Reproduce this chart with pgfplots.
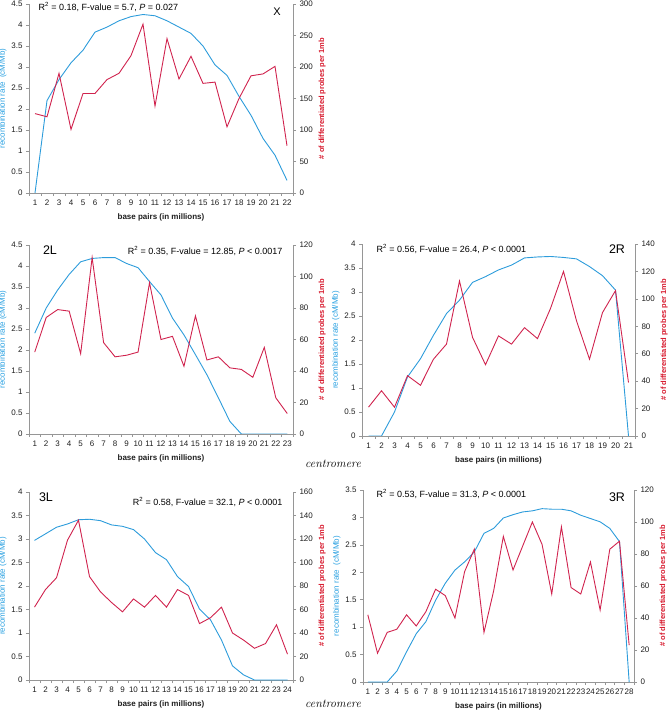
\documentclass[border=0pt]{standalone}
\usepackage{fontspec}
\setsansfont{Liberation Sans}
\usepackage{pgfplots}
\pgfplotsset{compat=1.18}
\definecolor{cblue}{RGB}{45,156,219}
\definecolor{cred}{RGB}{208,35,78}
\definecolor{cbluelab}{RGB}{40,160,225}
\definecolor{credlab}{RGB}{215,25,45}
\definecolor{axcol}{RGB}{150,150,150}
\definecolor{tickcol}{RGB}{30,30,30}
\pgfplotsset{
  common/.style={scale only axis, anchor=south west, xmin=0.5, ymin=0,
    axis line style={axcol,line width=0.6pt,-}, tick align=outside,
    major tick length=3pt, minor tick length=3pt,
    tick style={axcol,line width=0.6pt},
    tick label style={font=\sffamily\fontsize{8}{9}\selectfont, text=tickcol},
    /pgf/number format/assume math mode=true},
  leftax/.style={common, axis x line*=bottom, axis y line*=left,
    major x tick style={draw=none},
    xlabel={base pairs (in millions)},
    xlabel style={font=\sffamily\bfseries\fontsize{8}{9}\selectfont, text=tickcol, yshift=-2pt},
    ylabel shift=-2pt,
    ylabel style={font=\sffamily\fontsize{8}{9}\selectfont, text=cbluelab}},
  rightax/.style={common, hide x axis, axis y line*=right,
    ylabel={\# of differentiated probes per 1mb},
    ylabel shift=-1pt,
    ylabel style={font=\sffamily\bfseries\fontsize{7.5}{9}\selectfont, text=credlab}},
  bl/.style={cblue, line width=0.9pt, mark=none},
  rl/.style={cred, line width=0.9pt, mark=none},
}
\begin{document}
\begin{tikzpicture}[font=\sffamily]
\useasboundingbox (0,0) rectangle (669pt,710pt);
% ---------------- X ----------------
\begin{axis}[leftax, at={(29pt,517pt)}, width=264pt, height=189pt, xmax=22.5, ymax=4.5,
  ytick={0,0.5,...,4.5}, xtick={1,...,22}, minor xtick={0.5,1.5,...,22.5},
  ylabel={recombination rate\ \ (cM/Mb)}]
\addplot[bl] coordinates {(1,0)(2,2.2)(3,2.7)(4,3.1)(5,3.4)(6,3.83)(7,3.95)(8,4.1)(9,4.2)(10,4.25)(11,4.22)(12,4.1)(13,3.95)(14,3.8)(15,3.5)(16,3.05)(17,2.8)(18,2.3)(19,1.85)(20,1.3)(21,0.9)(22,0.3)};
\end{axis}
\begin{axis}[rightax, at={(29pt,517pt)}, width=264pt, height=189pt, xmax=22.5, ymax=300,
  ytick={0,50,...,300}]
\addplot[rl] coordinates {(1,126)(2,121)(3,190)(4,101)(5,158)(6,158)(7,180)(8,190)(9,218)(10,268)(11,138)(12,245)(13,181)(14,217)(15,174)(16,176)(17,105)(18,150)(19,186)(20,189)(21,201)(22,75)};
\end{axis}
\node[anchor=west, font=\sffamily\fontsize{9}{10}\selectfont] at (35pt,703pt) {R\textsuperscript{2} = 0.18, F-value = 5.7, \textit{P} = 0.027};
\node[font=\sffamily\fontsize{11}{12}\selectfont] at (277pt,698pt) {X};
% ---------------- 2L ----------------
\begin{axis}[leftax, at={(29pt,276pt)}, width=264pt, height=189pt, xmax=23.5, ymax=4.5,
  ytick={0,0.5,...,4.5}, xtick={1,...,23}, minor xtick={0.5,1.5,...,23.5},
  ylabel={recombination rate (cM/Mb)}]
\addplot[bl] coordinates {(1,2.4)(2,3.0)(3,3.43)(4,3.8)(5,4.1)(6,4.18)(7,4.2)(8,4.2)(9,4.06)(10,3.96)(11,3.63)(12,3.31)(13,2.76)(14,2.36)(15,1.89)(16,1.41)(17,0.86)(18,0.3)(19,0)(20,0)(21,0)(22,0)(23,0)};
\end{axis}
\begin{axis}[rightax, at={(29pt,276pt)}, width=264pt, height=189pt, xmax=23.5, ymax=120,
  ytick={0,20,...,120}]
\addplot[rl] coordinates {(1,52)(2,74)(3,79)(4,78)(5,51)(6,112)(7,58)(8,49)(9,50)(10,52)(11,96)(12,60)(13,62)(14,43)(15,75)(16,47)(17,49)(18,42)(19,41)(20,36)(21,55)(22,23)(23,13)};
\end{axis}
\node[anchor=east, font=\sffamily\fontsize{9}{10}\selectfont] at (286pt,459pt) {R\textsuperscript{2} = 0.35, F-value = 12.85, \textit{P} < 0.0017};
\node[font=\sffamily\fontsize{12.5}{13}\selectfont] at (50pt,460pt) {2L};
% ---------------- 2R ----------------
\begin{axis}[leftax, at={(362pt,274pt)}, width=273pt, height=192pt, xmax=21.5, ymax=4,
  ytick={0,0.5,...,4}, xtick={1,...,21}, minor xtick={0.5,1.5,...,21.5},
  ylabel={recombination rate (cM/Mb)}]
\addplot[bl] coordinates {(1,0)(2,0)(3,0.5)(4,1.23)(5,1.61)(6,2.1)(7,2.55)(8,2.83)(9,3.2)(10,3.32)(11,3.46)(12,3.56)(13,3.71)(14,3.73)(15,3.74)(16,3.72)(17,3.69)(18,3.53)(19,3.34)(20,3.04)(21,0)};
\end{axis}
\begin{axis}[rightax, at={(362pt,274pt)}, width=273pt, height=192pt, xmax=21.5, ymax=140,
  ytick={0,20,...,140}]
\addplot[rl] coordinates {(1,21)(2,33)(3,21)(4,44)(5,37)(6,56)(7,67)(8,113)(9,72)(10,52)(11,73)(12,67)(13,79)(14,71)(15,93)(16,120)(17,84)(18,56)(19,90)(20,106)(21,39)};
\end{axis}
\node[anchor=west, font=\sffamily\fontsize{9}{10}\selectfont] at (373pt,461pt) {R\textsuperscript{2} = 0.56, F-value = 26.4, \textit{P} < 0.0001};
\node[font=\sffamily\fontsize{12.5}{13}\selectfont] at (617pt,461pt) {2R};
% ---------------- 3L ----------------
\begin{axis}[leftax, at={(29pt,30pt)}, width=264pt, height=188pt, xmax=24.5, ymax=4,
  ytick={0,0.5,...,4}, xtick={1,...,24}, minor xtick={0.5,1.5,...,24.5},
  ylabel={recombination rate (cM/Mb)}]
\addplot[bl] coordinates {(1,2.97)(2,3.11)(3,3.25)(4,3.32)(5,3.41)(6,3.42)(7,3.39)(8,3.3)(9,3.27)(10,3.2)(11,3.0)(12,2.71)(13,2.56)(14,2.2)(15,1.99)(16,1.51)(17,1.28)(18,0.85)(19,0.3)(20,0.11)(21,0)(22,0)(23,0)(24,0)};
\end{axis}
\begin{axis}[rightax, at={(29pt,30pt)}, width=264pt, height=188pt, xmax=24.5, ymax=160,
  ytick={0,20,...,160}]
\addplot[rl] coordinates {(1,62)(2,77)(3,87)(4,119)(5,136)(6,88)(7,75)(8,66)(9,58)(10,69)(11,62)(12,72)(13,62)(14,77)(15,72)(16,48)(17,53)(18,62)(19,40)(20,34)(21,27)(22,31)(23,47)(24,22)};
\end{axis}
\node[anchor=east, font=\sffamily\fontsize{9}{10}\selectfont] at (286pt,208pt) {R\textsuperscript{2} = 0.58, F-value = 32.1, \textit{P} < 0.0001};
\node[font=\sffamily\fontsize{12.5}{13}\selectfont] at (46pt,213pt) {3L};
% ---------------- 3R ----------------
\begin{axis}[leftax, at={(363pt,28pt)}, width=271pt, height=192pt, xmax=28.5, ymax=3.5,
  ytick={0,0.5,...,3.5}, xtick={1,...,28}, minor xtick={0.5,1.5,...,28.5},
  ylabel={recombination rate\ \ (cM/Mb)}]
\addplot[bl] coordinates {(1,0)(2,0)(3,0)(4,0.2)(5,0.55)(6,0.88)(7,1.1)(8,1.49)(9,1.8)(10,2.04)(11,2.19)(12,2.37)(13,2.71)(14,2.8)(15,2.99)(16,3.05)(17,3.1)(18,3.12)(19,3.16)(20,3.15)(21,3.15)(22,3.12)(23,3.04)(24,2.98)(25,2.92)(26,2.8)(27,2.56)(28,0)};
\end{axis}
\begin{axis}[rightax, at={(363pt,28pt)}, width=271pt, height=192pt, xmax=28.5, ymax=120,
  ytick={0,20,...,120}]
\addplot[rl] coordinates {(1,42)(2,18)(3,31)(4,33)(5,42)(6,35)(7,44)(8,58)(9,54)(10,40)(11,69)(12,83)(13,31)(14,57)(15,91)(16,70)(17,85)(18,100)(19,86)(20,55)(21,97)(22,59)(23,55)(24,75)(25,45)(26,83)(27,88)(28,23)};
\end{axis}
\node[anchor=west, font=\sffamily\fontsize{9}{10}\selectfont] at (373pt,216pt) {R\textsuperscript{2} = 0.53, F-value = 31.3, \textit{P} < 0.0001};
\node[font=\sffamily\fontsize{12.5}{13}\selectfont] at (617pt,213pt) {3R};
% centromere labels
\node[font=\rmfamily\itshape\fontsize{12}{13}\selectfont] at (333pt,246pt) {centromere};
\node[font=\rmfamily\itshape\fontsize{12}{13}\selectfont] at (333pt,6pt) {centromere};
\end{tikzpicture}
\end{document}
